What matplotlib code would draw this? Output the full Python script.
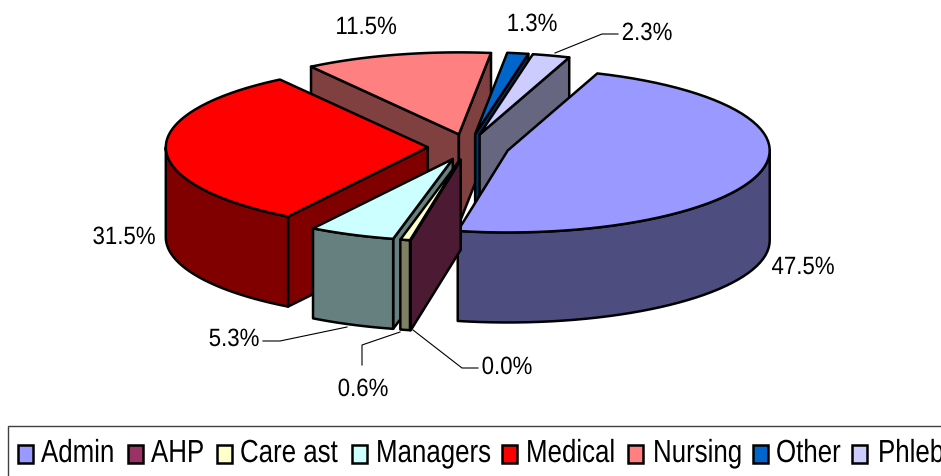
import numpy as np
import matplotlib
matplotlib.use('Agg')
import matplotlib.pyplot as plt
import matplotlib.patheffects as pe
from matplotlib.patches import Polygon, Rectangle
from matplotlib.transforms import Affine2D

# Datos
categorias = ['Admin', 'AHP', 'Care ast', 'Managers', 'Medical', 'Nursing', 'Other', 'Phleb']
valores = [47.5, 0.0, 0.6, 5.3, 31.5, 11.5, 1.3, 2.3]
colores = ['#9999FF', '#993366', '#FFFFCC', '#CCFFFF', '#FF0000', '#FF8080', '#0066CC', '#CCCCFF']

# Geometria del pastel, en pixeles de la imagen
centro_x, centro_y = 468.5, 147
radio_x, radio_y = 262, 82
explosion_x, explosion_y = 40.7, 13
altura = 90
angulo_inicio = 20

# Orden de dibujo: de atras hacia adelante
orden = [5, 6, 7, 0, 4, 3, 2, 1]

# Etiquetas: centro del texto para cada categoria
etiquetas_x = [803, 507, 363, 234, 124, 366, 532, 647]
etiquetas_y = [267, 367, 389, 339, 237, 27, 24, 33]

# Lineas guia
guias = [
    [(263, 341), (280, 341), (347, 327)],
    [(362, 365), (362, 345), (400, 332)],
    [(413, 330), (462, 368), (478, 368)],
    [(618, 34), (602, 34), (555, 53)],
]

# Leyenda
leyenda_cuadro_x = [18, 128, 217, 352, 502, 628, 753, 852]
leyenda_texto_x = [41, 151, 240, 376, 526, 653, 776, 878]

plt.rcParams['font.family'] = ['Liberation Sans', 'DejaVu Sans']

fig = plt.figure(figsize=(9.41, 4.76), dpi=100)
ax = fig.add_axes([0, 0, 1, 1])
ax.set_xlim(0, 941)
ax.set_ylim(476, 0)
ax.axis('off')


# El texto del original esta comprimido en horizontal
class Angosto(pe.AbstractPathEffect):
    def __init__(self, ancla_x, escala):
        super().__init__()
        self.ancla_x = ancla_x
        self.escala = escala

    def draw_path(self, renderer, gc, tpath, affine, rgbFace=None):
        ajuste = Affine2D().translate(-self.ancla_x, 0).scale(self.escala, 1).translate(self.ancla_x, 0)
        renderer.draw_path(gc, tpath, affine + ajuste, rgbFace)


def oscuro(color):
    r, g, b = matplotlib.colors.to_rgb(color)
    return (r * 0.5, g * 0.5, b * 0.5)


def borde(x, y, angulo):
    return (x + radio_x * np.sin(angulo), y - radio_y * np.cos(angulo))


def cara(puntos, color, z):
    ax.add_patch(Polygon(puntos, closed=True, facecolor=color, edgecolor='black',
                         linewidth=1.8, joinstyle='round', zorder=z))


# Angulos de cada porcion, en sentido horario desde arriba
fracciones = np.array(valores) / sum(valores) * 2 * np.pi
fin = np.radians(angulo_inicio) + np.cumsum(fracciones)
ini = fin - fracciones

z = 1
for i in orden:
    a0, a1 = ini[i], fin[i]
    medio = (a0 + a1) / 2
    px = centro_x + explosion_x * np.sin(medio)
    py = centro_y - explosion_y * np.cos(medio)
    lado = oscuro(colores[i])

    # Cara del corte inicial
    if np.sin(a0) < 0:
        bx, by = borde(px, py, a0)
        cara([(px, py), (bx, by), (bx, by + altura), (px, py + altura)], lado, z)
        z += 1
    # Cara del corte final
    if np.sin(a1) > 0:
        bx, by = borde(px, py, a1)
        cara([(px, py), (bx, by), (bx, by + altura), (px, py + altura)], lado, z)
        z += 1

    # Pared exterior, solo la parte que mira al frente
    p0 = max(a0, np.pi / 2)
    p1 = min(a1, 3 * np.pi / 2)
    if p1 > p0:
        arco = np.linspace(p0, p1, 40)
        arriba = [borde(px, py, a) for a in arco]
        abajo = [(x, y + altura) for x, y in arriba[::-1]]
        cara(arriba + abajo, lado, z)
        z += 1

    # Tapa
    arco = np.linspace(a0, a1, 60)
    cara([(px, py)] + [borde(px, py, a) for a in arco], colores[i], z)
    z += 1

# Porcentajes
for i, v in enumerate(valores):
    t = ax.text(etiquetas_x[i], etiquetas_y[i], f'{v:.1f}%', fontsize=18, ha='center',
                va='center', color='black', zorder=50)
    t.set_path_effects([Angosto(etiquetas_x[i], 0.89)])

for guia in guias:
    xs, ys = zip(*guia)
    ax.plot(xs, ys, color='black', linewidth=0.8, zorder=49)

# Leyenda, cortada por el borde derecho como en el original
ax.add_patch(Rectangle((8.5, 425.5), 960, 80, facecolor='white', edgecolor='#404040',
                       linewidth=1.0, zorder=60))
for i, nombre in enumerate(categorias):
    ax.add_patch(Rectangle((leyenda_cuadro_x[i], 445), 15, 18, facecolor=colores[i],
                           edgecolor='black', linewidth=1.8, zorder=61))
    t = ax.text(leyenda_texto_x[i], 462, nombre, fontsize=23, ha='left', va='baseline',
                color='black', zorder=61)
    t.set_path_effects([Angosto(leyenda_texto_x[i], 0.81)])

fig.savefig('out.png', dpi=100)
